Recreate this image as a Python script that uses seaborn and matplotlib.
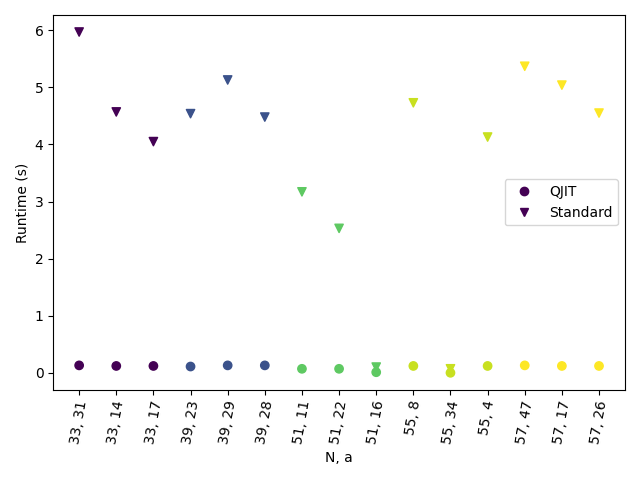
import matplotlib
matplotlib.use("Agg")
import matplotlib.pyplot as plt
import seaborn as sns
import pandas as pd
from matplotlib.lines import Line2D

labels = ["33, 31", "33, 14", "33, 17", "39, 23", "39, 29", "39, 28", "51, 11", "51, 22",
          "51, 16", "55, 8", "55, 34", "55, 4", "57, 47", "57, 17", "57, 26"]
N = [33, 33, 33, 39, 39, 39, 51, 51, 51, 55, 55, 55, 57, 57, 57]
qjit = [0.13, 0.12, 0.12, 0.11, 0.13, 0.13, 0.07, 0.07, 0.01, 0.12, 0.0, 0.12, 0.13, 0.12, 0.12]
standard = [5.97, 4.57, 4.05, 4.54, 5.13, 4.48, 3.17, 2.53, 0.1, 4.73, 0.07, 4.13, 5.37, 5.04, 4.55]

df = pd.DataFrame({"label": labels, "N": N, "QJIT": qjit, "Standard": standard})

fig, ax = plt.subplots(figsize=(6.4, 4.8), dpi=100)
sns.scatterplot(data=df, x="label", y="QJIT", hue="N", palette="viridis", marker="o",
                s=36, linewidth=1, edgecolor="face", legend=False, ax=ax)
sns.scatterplot(data=df, x="label", y="Standard", hue="N", palette="viridis", marker="v",
                s=36, linewidth=1, edgecolor="face", legend=False, ax=ax)

c0 = plt.get_cmap("viridis")(0.0)
handles = [Line2D([], [], marker="o", color=c0, linestyle="none", markersize=6),
           Line2D([], [], marker="v", color=c0, linestyle="none", markersize=6)]
ax.legend(handles, ["QJIT", "Standard"], loc="center right")
ax.set_xlabel("N, a")
ax.set_ylabel("Runtime (s)")
ax.tick_params(axis="x", rotation=80)
fig.tight_layout()
fig.savefig("out.png")
